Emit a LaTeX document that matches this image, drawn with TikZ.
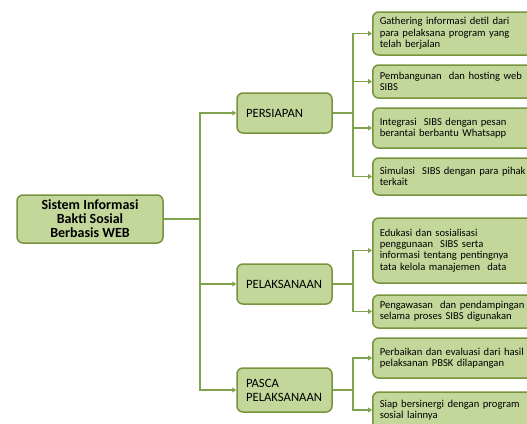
\documentclass[tikz,border=0pt]{standalone}
\usepackage{fontspec}
\setmainfont{Carlito}
\usetikzlibrary{arrows.meta}
\definecolor{boxfill}{HTML}{C4D79B}
\definecolor{boxline}{HTML}{77933C}
\definecolor{connc}{HTML}{7FA34A}
\tikzset{
  basebox/.style={draw=boxline, fill=boxfill, line width=1.5pt, rounded corners=6pt},
  rootbox/.style={basebox, font=\fontsize{14}{14}\selectfont\bfseries, align=center,
    minimum width=146pt, minimum height=48pt, inner sep=0pt},
  phasebox/.style={basebox, font=\fontsize{12.7}{14}\selectfont, align=left,
    text width=77pt, inner xsep=9pt, inner ysep=0pt, minimum height=40pt},
  leafbox/.style={basebox, font=\fontsize{10.6}{11.4}\selectfont, align=left,
    text width=200pt, inner xsep=7pt, inner ysep=0pt, anchor=west},
  connline/.style={draw=connc, line width=1.5pt},
  arr/.style={connline, -{Triangle[width=5pt,length=4pt]}}
}
\begin{document}
\begin{tikzpicture}[x=1pt,y=-1pt]
\useasboundingbox (0,0) rectangle (527,423);
\clip (0,0) rectangle (527,423);

\node[rootbox] (root) at (90,219) {Sistem Informasi\\Bakti Sosial\\Berbasis WEB};

\node[phasebox] (p1) at (284.5,113) {PERSIAPAN};
\node[phasebox] (p2) at (284.5,284) {PELAKSANAAN};
\node[phasebox, minimum height=44pt] (p3) at (284.5,390) {PASCA\\PELAKSANAAN};

\node[leafbox, minimum height=43pt] (l1) at (372,33.5) {Gathering informasi detil dari\\para pelaksana program yang\\telah berjalan};
\node[leafbox, minimum height=33pt] (l2) at (372,81.5) {Pembangunan\ \ dan hosting web\\SIBS};
\node[leafbox, minimum height=40pt] (l3) at (372,128) {Integrasi\ \ SIBS dengan pesan\\berantai berbantu Whatsapp};
\node[leafbox, minimum height=37pt] (l4) at (372,176.5) {Simulasi\ \ SIBS dengan para pihak\\terkait};
\node[leafbox, minimum height=65pt] (l5) at (372,250.5) {Edukasi dan sosialisasi\\penggunaan\ \ SIBS serta\\informasi tentang pentingnya\\tata kelola manajemen\ \ data};
\node[leafbox, minimum height=33pt] (l6) at (372,311.5) {Pengawasan\ \ dan pendampingan\\selama proses SIBS digunakan};
\node[leafbox, minimum height=40pt] (l7) at (372,358) {Perbaikan dan evaluasi dari hasil\\pelaksanan PBSK dilapangan};
\node[leafbox, minimum height=36pt] (l8) at (372,410) {Siap bersinergi dengan program\\sosial lainnya};

\coordinate (t) at (200,219);
\draw[connline] (root.east) -- (t);
\draw[arr] (t) |- (p1.west);
\draw[arr] (t) |- (p2.west);
\draw[arr] (t) |- (p3.west);

\coordinate (r1) at (353,113);
\coordinate (r2) at (353,284);
\coordinate (r3) at (353,390);
\draw[connline] (p1.east) -- (r1);
\draw[connline] (p2.east) -- (r2);
\draw[connline] (p3.east) -- (r3);
\draw[arr] (r1) |- (l1.west);
\draw[arr] (r1) |- (l2.west);
\draw[arr] (r1) |- (l3.west);
\draw[arr] (r1) |- (l4.west);
\draw[arr] (r2) |- (l5.west);
\draw[arr] (r2) |- (l6.west);
\draw[arr] (r3) |- (l7.west);
\draw[arr] (r3) |- (l8.west);
\end{tikzpicture}
\end{document}
